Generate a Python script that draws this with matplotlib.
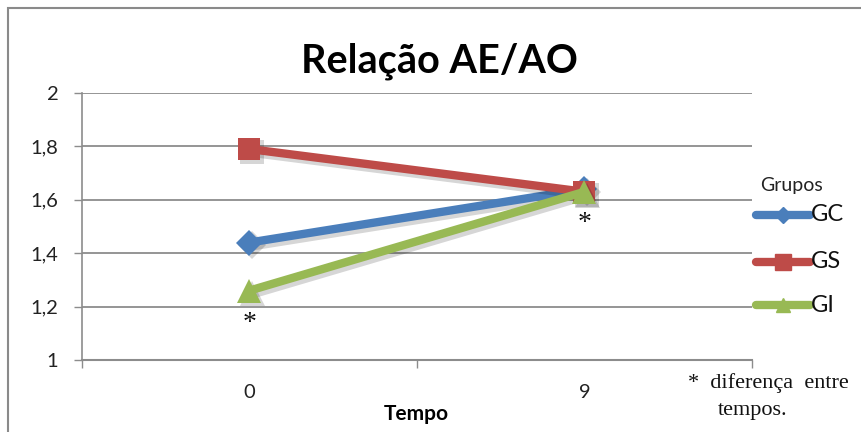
import matplotlib
matplotlib.use("Agg")
import matplotlib.pyplot as plt
import matplotlib.transforms as mtransforms
from matplotlib.lines import Line2D
from matplotlib.patches import Rectangle

# Data
tempos = ["0", "9"]
gc = [1.44, 1.64]
gs = [1.79, 1.63]
gi = [1.26, 1.63]
y_ticks = [1.0, 1.2, 1.4, 1.6, 1.8, 2.0]
y_labels = ["1", "1,2", "1,4", "1,6", "1,8", "2"]
series_names = ["GC", "GS", "GI"]

W, H = 862, 432
SANS = "Lato"
fig = plt.figure(figsize=(W / 100, H / 100), dpi=100)
fig.patch.set_facecolor("white")

# outer chart frame
fig.add_artist(Rectangle((8 / W, -0.1), 1.2, (H - 8) / H + 0.1,
                         transform=fig.transFigure, fill=False,
                         edgecolor="#8a8a8a", linewidth=1.5))

left, right, top, bottom = 82, 752, 93, 360
ax = fig.add_axes([left / W, 1 - bottom / H, (right - left) / W, (bottom - top) / H])
ax.set_xlim(-0.5, 1.5)
ax.set_ylim(1, 2)

grid_c = "#8c8c8c"
for s in ["top", "right"]:
    ax.spines[s].set_visible(False)
ax.spines["left"].set_color(grid_c)
ax.spines["bottom"].set_color(grid_c)
ax.spines["left"].set_linewidth(1.2)
ax.spines["bottom"].set_linewidth(1.5)

ax.set_yticks(y_ticks)
ax.set_yticklabels(y_labels)
ax.yaxis.grid(True, color=grid_c, linewidth=1.3)
ax.set_axisbelow(True)
ax.tick_params(axis="y", length=6, color=grid_c, width=1, pad=11,
               labelsize=14.5, labelcolor="#222222")

# category ticks between groups, labels at centers
ax.set_xticks([0, 1])
ax.set_xticklabels(tempos)
ax.set_xticks([-0.5, 0.5, 1.5], minor=True)
ax.tick_params(axis="x", which="major", length=0, pad=17, labelsize=14.5,
               labelcolor="#222222")
ax.tick_params(axis="x", which="minor", length=6, color=grid_c, width=1)

for lab in ax.get_xticklabels() + ax.get_yticklabels():
    lab.set_family(SANS)

xs = [0, 1]
styles = [(gc, "#4A7EBB", "D", 13, 3), (gs, "#BE4B48", "s", 16, 4),
          (gi, "#98B954", "^", 17, 5)]
shadow_tr = mtransforms.offset_copy(ax.transData, fig=fig, x=2.0, y=-2.0,
                                    units="points")
for vals, c, m, ms, z in styles:
    # soft drop shadow under each series
    ax.plot(xs, vals, color="black", alpha=0.16, linewidth=7.5, marker=m,
            markersize=ms + 1, markeredgewidth=0, solid_capstyle="butt",
            transform=shadow_tr, zorder=z - 0.5)
    ax.plot(xs, vals, color=c, linewidth=6, marker=m, markersize=ms,
            markeredgewidth=0, solid_capstyle="butt", zorder=z)

# significance marks
ax.annotate("*", (0, gi[0]), xytext=(0, -24), textcoords="offset points",
            ha="center", va="center", fontsize=20, color="#111111",
            family="Liberation Serif", zorder=10)
ax.annotate("*", (1, gi[1]), xytext=(0, -23), textcoords="offset points",
            ha="center", va="center", fontsize=20, color="#111111",
            family="Liberation Serif", zorder=10)

fig.text(439 / W, 1 - 61 / H, "Relação AE/AO", ha="center", va="center",
         fontsize=28.5, fontweight="bold", family=SANS, color="black")
fig.text(416 / W, 1 - 414 / H, "Tempo", ha="center", va="center",
         fontsize=15, fontweight="bold", family=SANS, color="black")

# legend
fig.text(792 / W, 1 - 186 / H, "Grupos", ha="center", va="center",
         fontsize=14, family=SANS, color="#222222")
leg_cfg = [("#4A7EBB", "D", 8, 215), ("#BE4B48", "s", 11, 262),
           ("#98B954", "^", 10, 305)]
for name, (c, m, ms, yy) in zip(series_names, leg_cfg):
    yf = 1 - yy / H
    fig.add_artist(Line2D([756 / W, 810 / W], [yf, yf], transform=fig.transFigure,
                          color=c, linewidth=6, solid_capstyle="round"))
    fig.add_artist(Line2D([783 / W], [yf], transform=fig.transFigure,
                          color=c, marker=m, markersize=ms, linestyle="none"))
    fig.text(811 / W, yf, name, ha="left", va="center", fontsize=17,
             family=SANS, color="#111111")

fig.text(768 / W, 1 - 383 / H, "*  diferença  entre", ha="center", va="center",
         fontsize=16, family="Liberation Serif", color="#111111")
fig.text(753 / W, 1 - 410 / H, "tempos.", ha="center", va="center",
         fontsize=16, family="Liberation Serif", color="#111111")

fig.savefig("out.png", dpi=100)
